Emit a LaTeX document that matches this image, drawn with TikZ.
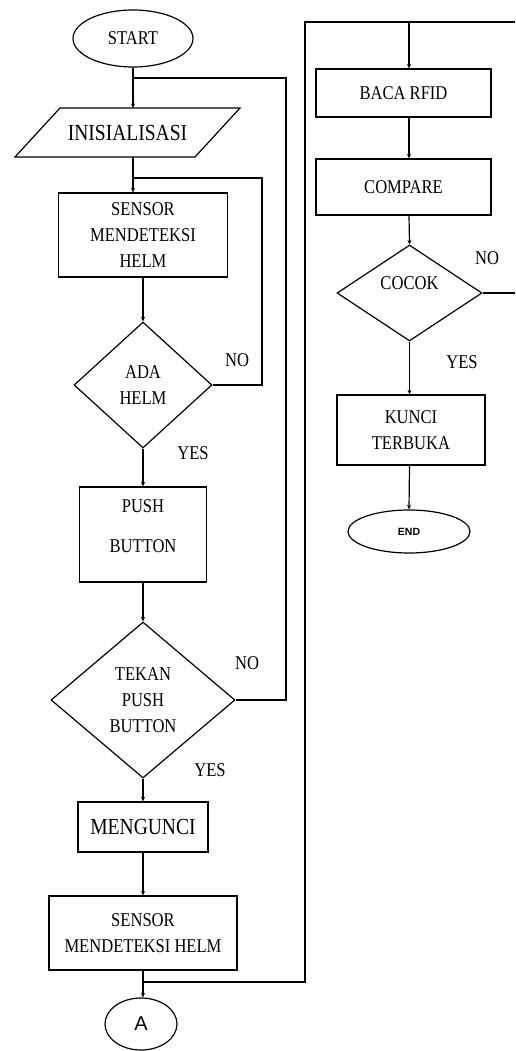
\documentclass[tikz,border=0pt]{standalone}
\usepackage{fontspec}
\setmainfont{Liberation Serif}[FakeStretch=0.85]
\newfontfamily\sansA{Liberation Sans}
\usetikzlibrary{shapes.geometric,arrows.meta}
\begin{document}
\begin{tikzpicture}[x=1pt,y=-1pt,line width=1.2pt,
  txt/.style={font=\fontsize{19.5}{26}\selectfont,align=center,inner sep=0pt},
  bigtxt/.style={font=\fontsize{23}{28}\selectfont,align=center,inner sep=0pt},
  box/.style={draw,rectangle,txt},
  dia/.style={draw,diamond,txt},
  oval/.style={draw,ellipse,inner sep=0pt},
  lbl/.style={font=\fontsize{19.5}{24}\selectfont,inner sep=0pt},
  arr/.style={-{Stealth[length=4.5pt,width=4pt]}}]
\useasboundingbox (0,0) rectangle (515,1051);
% left column
\node[oval,txt,minimum width=120pt,minimum height=57pt] (start) at (133,38.5) {START};
\draw (60,108) -- (240,108) -- (195,157) -- (15,157) -- cycle;
\node[bigtxt] (init) at (127.5,133) {INISIALISASI};
\coordinate (initN) at (133,108);
\coordinate (initS) at (133,157);
\node[box,minimum width=169pt,minimum height=84pt] (sensor1) at (143,235) {SENSOR\\MENDETEKSI\\HELM};
\node[dia,minimum width=138pt,minimum height=126pt] (ada) at (143,385) {ADA\\HELM};
\node[draw,rectangle,minimum width=127pt,minimum height=95pt] (push) at (143,534.5) {};
\node[txt,font=\fontsize{19.5}{40}\selectfont] (pushtxt) at (143,526) {PUSH\\BUTTON};
\node[dia,minimum width=184pt,minimum height=156pt] (tekan) at (143,700) {TEKAN\\PUSH\\BUTTON};
\node[box,bigtxt,minimum width=130pt,minimum height=50pt] (kunci1) at (143,827) {MENGUNCI};
\node[box,minimum width=188pt,minimum height=74pt] (sensor2) at (143,933) {SENSOR\\MENDETEKSI HELM};
\node[oval,minimum width=72pt,minimum height=52pt,font=\sansA\fontsize{20}{22}\selectfont] (A) at (141,1024) {A};
% right column
\node[box,minimum width=175pt,minimum height=48pt] (baca) at (403.5,93) {BACA RFID};
\node[box,minimum width=175pt,minimum height=56pt] (compare) at (403.5,187) {COMPARE};
\node[draw,diamond,inner sep=0pt,minimum width=145pt,minimum height=96pt] (cocok) at (409.5,293) {};
\node[txt] (cocoktxt) at (409.5,283) {COCOK};
\node[box,minimum width=148pt,minimum height=70pt] (kunci2) at (411,430) {KUNCI\\TERBUKA};
\node[oval,minimum width=122pt,minimum height=43pt,font=\sansA\bfseries\fontsize{10.5}{12}\selectfont] (end) at (409,531.5) {END};
% labels
\node[lbl] (no1) at (237,360) {NO};
\node[lbl] (yes1) at (193,453) {YES};
\node[lbl] (no2) at (247,663) {NO};
\node[lbl] (yes2) at (210,770) {YES};
\node[lbl] (no3) at (487,258) {NO};
\node[lbl] (yes3) at (462,362) {YES};
% coordinates for loops
\coordinate (j1) at (133,78);
\coordinate (r1) at (286,78);
\coordinate (j2) at (133,178);
\coordinate (r2) at (262,178);
\coordinate (j3) at (143,982);
\coordinate (r3) at (305,22);
\coordinate (edgeT) at (515,22);
\coordinate (j4) at (409,22);
\coordinate (edgeR) at (515,290);
% connectors left
\draw[arr] (start.south) -- (initN);
\draw[arr] (initS) -- (initS |- sensor1.north);
\draw[arr] (sensor1.south) -- (ada.north);
\draw[arr] (ada.south) -- (push.north);
\draw[arr] (push.south) -- (tekan.north);
\draw[arr] (tekan.south) -- (kunci1.north);
\draw[arr] (kunci1.south) -- (sensor2.north);
\draw[arr] (sensor2.south) -- (sensor2.south |- A.north);
\draw (tekan.east) -| (r1) -- (j1);
\draw (ada.east) -| (r2) -- (j2);
\draw (j3) -| (r3) -- (edgeT);
% connectors right
\draw[arr] (j4) -- (j4 |- baca.north);
\draw[arr] (j4 |- baca.south) -- (j4 |- compare.north);
\draw[arr] (j4 |- compare.south) -- (cocok.north);
\draw (cocok.east) -- (cocok.east -| edgeR);
\draw[arr] (cocok.south) -- (cocok.south |- kunci2.north);
\draw[arr] (cocok.south |- kunci2.south) -- (end.north);
\end{tikzpicture}
\end{document}
